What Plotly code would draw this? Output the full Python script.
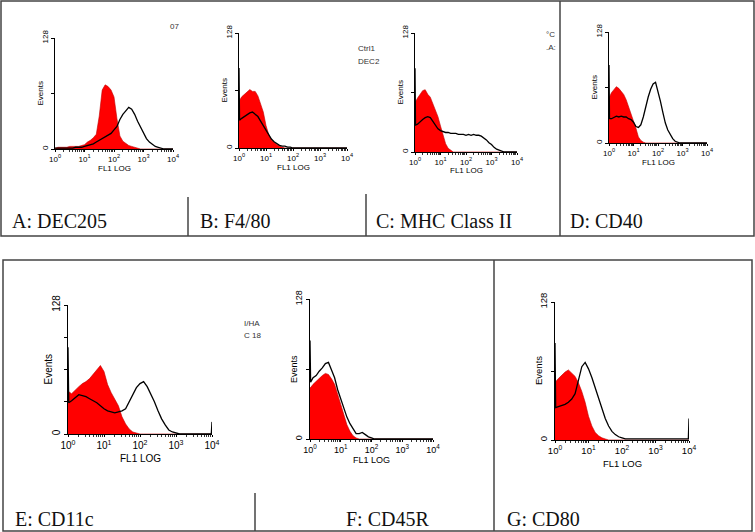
import plotly.graph_objects as go

W, H = 755, 532

# FL1 channel positions, in decades (10^0 .. 10^4)
DECADES = [0.0, 0.02,
           0.1, 0.2, 0.3, 0.4, 0.5, 0.6, 0.7, 0.8, 0.9, 1.0,
           1.1, 1.2, 1.3, 1.4, 1.5, 1.6, 1.7, 1.8, 1.9, 2.0,
           2.1, 2.2, 2.3, 2.4, 2.5, 2.6, 2.7, 2.8, 2.9, 3.0,
           3.1, 3.2, 3.3, 3.4, 3.5, 3.6, 3.7, 3.8, 3.9,
           3.98, 4.0]

PANEL_LABELS = ["A: DEC205", "B: F4/80", "C: MHC Class II", "D: CD40",
                "E: CD11c", "F: CD45R", "G: CD80"]

# red filled = isotype control, black line = stained sample (events)
CTRL_A = [1, 1, 2, 2, 2, 2, 3, 3, 3, 3, 4, 5, 8, 10, 13, 17, 38, 68, 74, 72, 68, 60,
          35, 15, 9, 6, 4, 3, 2, 1, 0, 0, 0, 0, 0, 0, 0, 0, 0, 0, 0, 0, 0]
STAIN_A = [1, 1, 1, 1, 1, 1, 1, 1, 2, 2, 2, 3, 4, 5, 6, 8, 10, 12, 14, 16, 18, 22,
           26, 34, 40, 44, 48, 46, 40, 32, 25, 18, 12, 8, 5, 3, 2, 1, 0, 0, 0, 0, 0]

CTRL_B = [53, 53, 57, 60, 63, 65, 63, 63, 58, 50, 40, 25, 15, 9, 6, 4, 2, 1, 0, 0, 0, 0,
          0, 0, 0, 0, 0, 0, 0, 0, 0, 0, 0, 0, 0, 0, 0, 0, 0, 0, 0, 0, 0]
STAIN_B = [89, 31, 33, 35, 37, 39, 40, 38, 35, 30, 25, 20, 15, 10, 7, 5, 3, 2, 2, 1, 1, 0,
           0, 0, 0, 0, 0, 0, 0, 0, 0, 0, 0, 0, 0, 0, 0, 0, 0, 0, 0, 0, 0]

CTRL_C = [54, 54, 58, 62, 66, 67, 62, 59, 52, 46, 38, 28, 19, 9, 4, 2, 0, 0, 0, 0, 0, 0,
          0, 0, 0, 0, 0, 0, 0, 0, 0, 0, 0, 0, 0, 0, 0, 0, 0, 0, 0, 0, 0]
STAIN_C = [90, 29, 30, 33, 35, 37, 38, 37, 33, 28, 25, 23, 22, 21, 21, 20, 20, 20, 19, 19, 19, 18,
           19, 18, 19, 18, 18, 17, 15, 13, 10, 8, 5, 3, 2, 1, 0, 0, 0, 0, 0, 0, 0]

CTRL_D = [53, 53, 58, 62, 65, 63, 60, 56, 50, 42, 35, 27, 17, 7, 3, 1, 0, 0, 0, 0, 0, 0,
          0, 0, 0, 0, 0, 0, 0, 0, 0, 0, 0, 0, 0, 0, 0, 0, 0, 0, 0, 0, 0]
STAIN_D = [90, 28, 28, 30, 31, 30, 31, 30, 30, 28, 27, 24, 19, 18, 21, 30, 42, 53, 62, 68, 70, 60,
           48, 35, 23, 15, 9, 5, 2, 1, 0, 0, 0, 0, 0, 0, 0, 0, 0, 0, 0, 0, 0]

CTRL_E = [42, 42, 40, 44, 47, 50, 52, 55, 59, 63, 68, 62, 49, 41, 35, 28, 17, 10, 5, 2, 1, 0,
          0, 0, 0, 0, 0, 0, 0, 0, 0, 0, 0, 0, 0, 0, 0, 0, 0, 0, 0, 0, 0]
STAIN_E = [86, 31, 33, 36, 39, 38, 37, 35, 33, 31, 28, 25, 23, 22, 21, 22, 23, 25, 32, 40, 46, 50,
           52, 47, 40, 32, 23, 15, 9, 4, 2, 1, 0, 0, 0, 0, 0, 0, 0, 0, 0, 0, 12]

CTRL_F = [47, 47, 50, 53, 56, 58, 60, 59, 55, 50, 41, 32, 22, 13, 7, 3, 1, 0, 0, 0, 0, 0,
          0, 0, 0, 0, 0, 0, 0, 0, 0, 0, 0, 0, 0, 0, 0, 0, 0, 0, 0, 0, 0]
STAIN_F = [90, 52, 56, 58, 62, 65, 69, 70, 63, 56, 45, 36, 28, 20, 14, 9, 5, 5, 6, 4, 2, 1,
           0, 0, 0, 0, 0, 0, 0, 0, 0, 0, 0, 0, 0, 0, 0, 0, 0, 0, 0, 0, 0]

CTRL_G = [54, 54, 57, 60, 63, 65, 62, 59, 53, 45, 35, 22, 13, 7, 4, 2, 1, 0, 0, 0, 0, 0,
          0, 0, 0, 0, 0, 0, 0, 0, 0, 0, 0, 0, 0, 0, 0, 0, 0, 0, 0, 0, 0]
STAIN_G = [90, 30, 31, 32, 33, 35, 38, 43, 55, 68, 72, 66, 58, 48, 38, 28, 20, 13, 8, 5, 3, 2,
           1, 1, 1, 1, 1, 1, 1, 1, 1, 1, 1, 1, 1, 1, 1, 1, 1, 1, 1, 1, 20]

CTRLS = [CTRL_A, CTRL_B, CTRL_C, CTRL_D, CTRL_E, CTRL_F, CTRL_G]
STAINS = [STAIN_A, STAIN_B, STAIN_C, STAIN_D, STAIN_E, STAIN_F, STAIN_G]

X_TICKS = [1, 10, 100, 1000, 10000]
X_TICKTEXT = ["10<sup>0</sup>", "10<sup>1</sup>", "10<sup>2</sup>", "10<sup>3</sup>", "10<sup>4</sup>"]
Y_TICKS = [0, 128]

# plot boxes in pixels: left, right, top (128), bottom (0), font size,
# offsets of the "Events" / "FL1 LOG" titles from the axes
BOXES = [(55, 173, 38, 149, 8, 15, 19), (239, 347, 33, 148, 8, 15, 19),
         (415, 517, 33, 152, 8, 15, 19), (609, 707, 32, 143, 8, 15, 19),
         (68, 212, 305, 434, 10, 20, 24), (310, 433, 299, 439, 9, 16, 21),
         (555, 689, 302, 440, 9.5, 17, 23)]
# label positions (left x, centre y)
LABEL_POS = [(10, 221), (198, 221), (374, 221), (568, 221), (13, 519), (344, 519), (505, 519)]


def fx(px):
    return px / W


def fy(py):
    return 1 - py / H


fig = go.Figure()
x_vals = [10 ** d for d in DECADES]
annotations = []

for i, (ctrl, stain) in enumerate(zip(CTRLS, STAINS)):
    n = "" if i == 0 else str(i + 1)
    l, r, t, b, fs, tdx, tdy = BOXES[i]
    fig.add_trace(go.Scatter(x=x_vals, y=ctrl, xaxis="x" + n, yaxis="y" + n,
                             mode="lines", fill="tozeroy", fillcolor="#ff0000",
                             line=dict(color="#c00000", width=0.6), showlegend=False))
    fig.add_trace(go.Scatter(x=x_vals, y=stain, xaxis="x" + n, yaxis="y" + n,
                             mode="lines", line=dict(color="black", width=1.3),
                             showlegend=False))
    minor_y = [32, 64, 96] if i == 4 else [64]
    tickfont = dict(family="Liberation Sans", size=fs, color="black")
    fig.layout["xaxis" + n] = dict(
        domain=[fx(l), fx(r)], anchor="y" + n, type="log", range=[0, 4],
        automargin=False,
        tickmode="array", tickvals=X_TICKS, ticktext=X_TICKTEXT,
        ticks="outside", ticklen=2, tickcolor="black", tickfont=tickfont,
        minor=dict(ticks="outside", ticklen=1.5, dtick="D1", tickcolor="#333"),
        showline=True, linecolor="black", linewidth=1, showgrid=False, zeroline=False)
    fig.layout["yaxis" + n] = dict(
        domain=[fy(b), fy(t)], anchor="x" + n, range=[0, 128],
        automargin=False,
        tickmode="array", tickvals=Y_TICKS, tickangle=-90,
        ticks="outside", ticklen=3, tickcolor="black", tickfont=tickfont,
        minor=dict(ticks="outside", ticklen=3, tickvals=minor_y, tickcolor="black"),
        showline=True, linecolor="black", linewidth=1, showgrid=False, zeroline=False)
    annotations.append(dict(text="Events", x=fx(l - tdx), y=fy((t + b) / 2),
                            xref="paper", yref="paper", textangle=-90,
                            xanchor="center", yanchor="middle", showarrow=False,
                            font=tickfont))
    annotations.append(dict(text="FL1 LOG", x=fx((l + r) / 2), y=fy(b + tdy),
                            xref="paper", yref="paper",
                            xanchor="center", yanchor="middle", showarrow=False,
                            font=tickfont))

for text, (lx, ly) in zip(PANEL_LABELS, LABEL_POS):
    annotations.append(dict(text=text, x=fx(lx), y=fy(ly), xref="paper", yref="paper",
                            xanchor="left", yanchor="middle", showarrow=False,
                            font=dict(family="Liberation Serif", size=20, color="#111")))

# stray gate/legend fragments printed on the original scans
FRAGMENTS = [("07", 168, 27), ("Ctrl1", 356, 49), ("DEC2", 356, 61), ("°C", 544, 35),
             (".A:", 544, 47), ("I/HA", 242, 323), ("C 18", 242, 335)]
for text, lx, ly in FRAGMENTS:
    annotations.append(dict(text=text, x=fx(lx), y=fy(ly), xref="paper", yref="paper",
                            xanchor="left", yanchor="middle", showarrow=False,
                            font=dict(family="Liberation Sans", size=8, color="#333")))

border = dict(color="#444", width=1.5)
shapes = [
    dict(type="rect", x0=fx(1), x1=fx(754), y0=fy(1), y1=fy(236), line=border),
    dict(type="line", x0=fx(188), x1=fx(188), y0=fy(197), y1=fy(236), line=border),
    dict(type="line", x0=fx(366), x1=fx(366), y0=fy(194), y1=fy(236), line=border),
    dict(type="line", x0=fx(560), x1=fx(560), y0=fy(1), y1=fy(236), line=border),
    dict(type="rect", x0=fx(3), x1=fx(752), y0=fy(260), y1=fy(531), line=border),
    dict(type="line", x0=fx(255), x1=fx(255), y0=fy(493), y1=fy(531), line=border),
    dict(type="line", x0=fx(494), x1=fx(494), y0=fy(260), y1=fy(531), line=border),
]
for s in shapes:
    s.update(xref="paper", yref="paper")

fig.update_layout(width=W, height=H, margin=dict(l=0, r=0, t=0, b=0, autoexpand=False),
                  paper_bgcolor="white", plot_bgcolor="white",
                  annotations=annotations, shapes=shapes)

# drop the browser's default 8px body margin so the figure sits at the page corner
fig.write_html("out.html", config={"displayModeBar": False},
               post_script="document.body.style.margin='0px';")
